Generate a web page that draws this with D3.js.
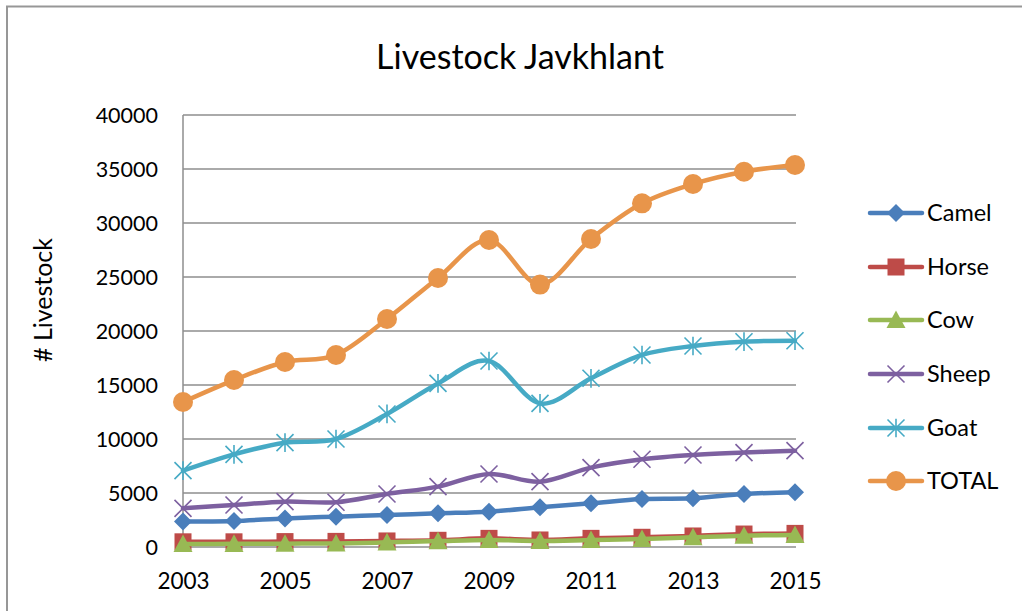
<!DOCTYPE html>
<html>
<head>
<meta charset="utf-8">
<script src="https://cdn.jsdelivr.net/npm/d3@7"></script>
<style>
  html, body { margin: 0; padding: 0; background: #fff; }
  svg { display: block; }
  text { font-family: Lato, "Open Sans", sans-serif; fill: #000; }
</style>
</head>
<body>
<svg id="chart" width="1022" height="611"></svg>
<script>
const years = [2003, 2004, 2005, 2006, 2007, 2008, 2009, 2010, 2011, 2012, 2013, 2014, 2015];
const camel = [2350, 2410, 2650, 2810, 2960, 3120, 3270, 3670, 4040, 4440, 4510, 4910, 5060];
const horse = [480, 480, 500, 520, 560, 620, 800, 650, 800, 900, 1020, 1200, 1260];
const cow   = [280, 290, 310, 330, 430, 550, 650, 560, 650, 740, 900, 1050, 1110];
const sheep = [3580, 3890, 4200, 4140, 4910, 5590, 6760, 6050, 7350, 8120, 8520, 8740, 8920];
const goat  = [7070, 8580, 9660, 10000, 12320, 15150, 17220, 13300, 15620, 17780, 18610, 19010, 19100];
const total = [13430, 15460, 17130, 17780, 21110, 24910, 28430, 24300, 28520, 31820, 33610, 34750, 35370];
const seriesNames = ["Camel", "Horse", "Cow", "Sheep", "Goat", "TOTAL"];
const yTicks = [0, 5000, 10000, 15000, 20000, 25000, 30000, 35000, 40000];
const xTickYears = [2003, 2005, 2007, 2009, 2011, 2013, 2015];

const seriesValues = [camel, horse, cow, sheep, goat, total];
const colors = ["#4A7EBB", "#BE4B48", "#98B954", "#7D60A0", "#46AAC5", "#E8954A"];
const markers = ["diamond", "square", "triangle", "x", "star", "circle"];

const svg = d3.select("#chart");

// chart border
svg.append("path")
  .attr("d", "M7,620 L7,6.5 L1030,6.5")
  .attr("fill", "none").attr("stroke", "#979797").attr("stroke-width", 2);

const x = d3.scaleLinear().domain([2003, 2015]).range([183, 795]);
const y = d3.scaleLinear().domain([0, 40000]).range([547, 115]);

// gridlines
svg.append("g").selectAll("line").data(yTicks).join("line")
  .attr("x1", 183).attr("x2", 796)
  .attr("y1", d => y(d)).attr("y2", d => y(d))
  .attr("stroke", "#8e8e8e").attr("stroke-width", 1.3);

// left axis line
svg.append("line").attr("x1", 183).attr("x2", 183)
  .attr("y1", y(40000)).attr("y2", y(0))
  .attr("stroke", "#8e8e8e").attr("stroke-width", 1.5);

// y axis labels
const yAxis = d3.axisLeft(y).tickValues(yTicks).tickSize(0).tickPadding(0).tickFormat(d3.format("d"));
const gy = svg.append("g").attr("transform", "translate(158,0)").call(yAxis);
gy.select(".domain").remove();
gy.selectAll("text").attr("font-size", 21.5).attr("font-family", "Lato").attr("fill", "#000").attr("dy", "0.36em");

// x axis labels
const xAxis = d3.axisBottom(x).tickValues(xTickYears).tickSize(0).tickPadding(0).tickFormat(d3.format("d"));
const gx = svg.append("g").attr("transform", "translate(0,573)").call(xAxis);
gx.select(".domain").remove();
gx.selectAll("text").attr("font-size", 22.5).attr("font-family", "Lato").attr("fill", "#000");

// title
svg.append("text").attr("x", 520).attr("y", 69).attr("text-anchor", "middle")
  .attr("font-size", 34).text("Livestock Javkhlant");

// y title
svg.append("text").attr("transform", "translate(52,300) rotate(-90)")
  .attr("text-anchor", "middle").attr("font-size", 25).text("# Livestock");

function drawMarker(g, type, color, cx, cy, scale) {
  const s = scale || 1;
  if (type === "diamond") {
    const r = 9 * s;
    g.append("path").attr("d", `M${cx},${cy - r} L${cx + r},${cy} L${cx},${cy + r} L${cx - r},${cy} Z`)
      .attr("fill", color);
  } else if (type === "square") {
    const h = 8.5 * s;
    g.append("rect").attr("x", cx - h).attr("y", cy - h).attr("width", 2 * h).attr("height", 2 * h)
      .attr("fill", color);
  } else if (type === "triangle") {
    const h = 9.5 * s;
    g.append("path").attr("d", `M${cx},${cy - h} L${cx + h},${cy + h * 0.85} L${cx - h},${cy + h * 0.85} Z`)
      .attr("fill", color);
  } else if (type === "x") {
    const h = 8.5 * s;
    g.append("path").attr("d", `M${cx - h},${cy - h} L${cx + h},${cy + h} M${cx - h},${cy + h} L${cx + h},${cy - h}`)
      .attr("stroke", color).attr("stroke-width", 1.6).attr("fill", "none");
  } else if (type === "star") {
    const h = 8.5 * s;
    g.append("path").attr("d", `M${cx - h},${cy - h} L${cx + h},${cy + h} M${cx - h},${cy + h} L${cx + h},${cy - h} M${cx},${cy - h * 1.1} L${cx},${cy + h * 1.1}`)
      .attr("stroke", color).attr("stroke-width", 1.6).attr("fill", "none");
  } else if (type === "circle") {
    g.append("circle").attr("cx", cx).attr("cy", cy).attr("r", 10 * s).attr("fill", color);
  }
}

const line = d3.line()
  .x((d, i) => x(years[i]))
  .y(d => y(d))
  .curve(d3.curveCatmullRom.alpha(0));

seriesValues.forEach((vals, si) => {
  const g = svg.append("g");
  g.append("path").datum(vals).attr("d", line)
    .attr("fill", "none").attr("stroke", colors[si]).attr("stroke-width", 4.5)
    .attr("stroke-linejoin", "round").attr("stroke-linecap", "round");
  vals.forEach((v, i) => drawMarker(g, markers[si], colors[si], x(years[i]), y(v)));
});

// legend
const legendY = [213, 267, 320, 374, 428, 481];
seriesNames.forEach((name, i) => {
  const g = svg.append("g");
  g.append("line").attr("x1", 870).attr("x2", 922).attr("y1", legendY[i]).attr("y2", legendY[i])
    .attr("stroke", colors[i]).attr("stroke-width", 4.5).attr("stroke-linecap", "round");
  drawMarker(g, markers[i], colors[i], 896, legendY[i], 1);
  g.append("text").attr("x", 927).attr("y", legendY[i]).attr("dy", "0.36em")
    .attr("font-size", 23.5).text(name);
});
</script>
</body>
</html>
